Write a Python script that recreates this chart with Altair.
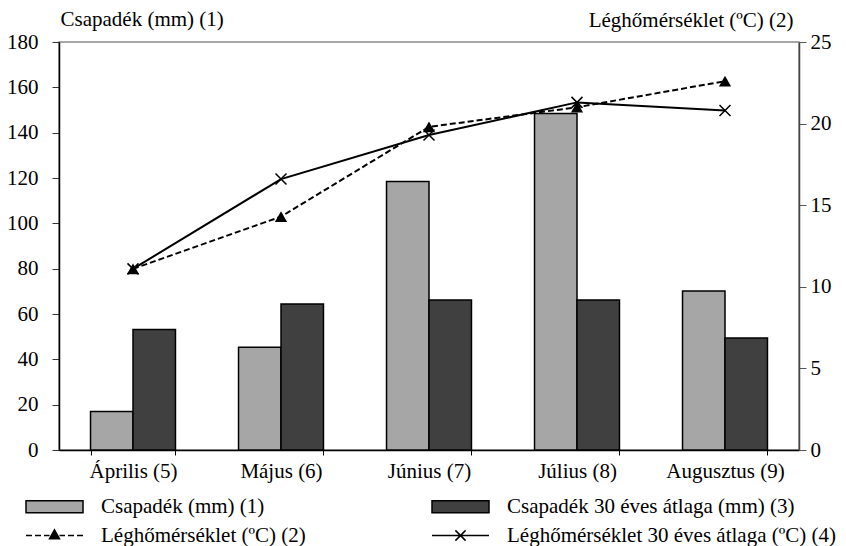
import altair as alt
import pandas as pd

# ---- data ----
months = ["Április (5)", "Május (6)", "Június (7)", "Július (8)", "Augusztus (9)"]
rain = [17, 45.3, 118.5, 148.5, 70.2]          # Csapadék (mm) (1)
rain_avg = [53.2, 64.4, 66.2, 66.2, 49.4]      # Csapadék 30 éves átlaga (mm) (3)
temp = [11.1, 14.3, 19.8, 21.0, 22.6]          # Léghőmérséklet (°C) (2)
temp_avg = [11.1, 16.6, 19.3, 21.3, 20.8]      # Léghőmérséklet 30 éves átlaga (°C) (4)

S1 = "Csapadék (mm) (1)"
S2 = "Léghőmérséklet (ºC) (2)"
S3 = "Csapadék 30 éves átlaga (mm) (3)"
S4 = "Léghőmérséklet 30 éves átlaga (ºC) (4)"
left_title = "Csapadék (mm) (1)"
right_title = "Léghőmérséklet (ºC) (2)"
left_ticks = [0, 20, 40, 60, 80, 100, 120, 140, 160, 180]
right_ticks = [0, 5, 10, 15, 20, 25]

bars_df = pd.DataFrame(
    {"month": months * 2, "series": [S1] * 5 + [S3] * 5, "value": rain + rain_avg}
)
temp_df = pd.DataFrame(
    {"month": months * 2, "series": [S2] * 5 + [S4] * 5, "value": temp + temp_avg}
)
legend_df = pd.DataFrame({"series": [S1, S3, S2, S4]})

FONT = "Liberation Serif"
LIGHT = "#a6a6a6"
DARK = "#404040"

# legend symbol paths (symbol size 144 -> 6 px per unit)
RECT = "M-4.75,-1H4.75V1H-4.75Z"
DASH_TRI = (
    "M-4.75,0H-3.75M-3.25,0H-2.25M-1.75,0H-0.83"
    "M0.83,0H1.75M2.25,0H3.25M3.75,0H4.75"
    "M0,-0.95L0.83,0.55L-0.83,0.55Z"
)
LINE_X = "M-4.75,0H4.75M-0.85,-0.85L0.85,0.85M-0.85,0.85L0.85,-0.85"
X_MARK = "M-1,-1L1,1M-1,1L1,-1"

x_enc = alt.X(
    "month:N",
    sort=months,
    scale=alt.Scale(paddingInner=0.426, paddingOuter=0.213),
    axis=alt.Axis(
        title=None,
        labelAngle=0,
        tickBand="extent",
        tickSize=5,
        labelPadding=5,
        domainColor="black",
        domainWidth=1.5,
        tickColor="black",
    ),
)

left_axis = alt.Axis(
    values=left_ticks,
    grid=False,
    tickSize=7,
    labelPadding=14,
    domainColor="black",
    domainWidth=1.5,
    tickColor="#333",
    title=left_title,
    titleAngle=0,
    titleAlign="left",
    titleBaseline="middle",
    titleX=1,
    titleY=-23,
)
right_axis = alt.Axis(
    orient="right",
    values=right_ticks,
    grid=False,
    tickSize=7,
    labelPadding=4,
    domainColor="#444",
    domainWidth=1.5,
    tickColor="#555",
    title=right_title,
    titleAngle=0,
    titleAlign="right",
    titleBaseline="middle",
    titleX=-6,
    titleY=-22,
)

bar_y = alt.Y("value:Q", scale=alt.Scale(domain=[0, 180]), axis=left_axis)
temp_y = alt.Y("value:Q", scale=alt.Scale(domain=[0, 25]), axis=right_axis)
x_off = alt.XOffset("series:N", scale=alt.Scale(domain=[S1, S3], paddingInner=0, paddingOuter=0))

bar_light = (
    alt.Chart(bars_df)
    .transform_filter(alt.datum.series == S1)
    .mark_bar(fill=LIGHT, stroke="black", strokeWidth=1.5)
    .encode(x=x_enc, xOffset=x_off, y=bar_y)
)
bar_dark = (
    alt.Chart(bars_df)
    .transform_filter(alt.datum.series == S3)
    .mark_bar(fill=DARK, stroke="black", strokeWidth=1.5)
    .encode(x=x_enc, xOffset=x_off, y=bar_y)
)

line_act = (
    alt.Chart(temp_df)
    .transform_filter(alt.datum.series == S2)
    .mark_line(color="black", strokeWidth=2, strokeDash=[6, 3])
    .encode(x=x_enc, y=temp_y)
)
line_avg = (
    alt.Chart(temp_df)
    .transform_filter(alt.datum.series == S4)
    .mark_line(color="black", strokeWidth=2)
    .encode(x=x_enc, y=temp_y)
)
pt_act = (
    alt.Chart(temp_df)
    .transform_filter(alt.datum.series == S2)
    .mark_point(shape="triangle-up", filled=True, fill="black", opacity=1, size=150)
    .encode(x=x_enc, y=temp_y)
)
pt_avg = (
    alt.Chart(temp_df)
    .transform_filter(alt.datum.series == S4)
    .mark_point(shape=X_MARK, filled=False, stroke="black", strokeWidth=1.5, opacity=1, size=121)
    .encode(x=x_enc, y=temp_y)
)

legend_def = dict(
    title=None,
    orient="none",
    legendX=-15,
    legendY=454,
    direction="horizontal",
    columns=2,
    columnPadding=123,
    rowPadding=7,
    padding=0,
    labelFontSize=21,
    labelFont=FONT,
    labelColor="black",
    labelOffset=36,
    labelLimit=400,
    symbolSize=144,
    symbolOpacity=1,
    symbolStrokeColor="black",
    symbolStrokeWidth=1.5,
)
legend_domain = [S1, S3, S2, S4]

legend_layer = (
    alt.Chart(legend_df)
    .mark_point(filled=True, opacity=0, size=144, strokeWidth=1.5)
    .encode(
        fill=alt.Fill(
            "series:N",
            scale=alt.Scale(domain=legend_domain, range=[LIGHT, DARK, "black", "black"]),
            legend=alt.Legend(**legend_def),
        ),
        stroke=alt.Stroke(
            "series:N",
            scale=alt.Scale(domain=legend_domain, range=["black", "black", "black", "black"]),
            legend=alt.Legend(**legend_def),
        ),
        shape=alt.Shape(
            "series:N",
            scale=alt.Scale(domain=legend_domain, range=[RECT, RECT, DASH_TRI, LINE_X]),
            legend=alt.Legend(**legend_def),
        ),
    )
)

bars = alt.layer(bar_light, bar_dark)
temps = alt.layer(line_act, line_avg, pt_act, pt_avg, legend_layer)

chart = (
    alt.layer(bars, temps)
    .resolve_scale(y="independent")
    .properties(
        width=740,
        height=408,
        padding={"left": 59, "top": 42, "right": 47, "bottom": 96},
        autosize=alt.AutoSizeParams(type="none"),
        background="white",
    )
    .configure(font=FONT)
    .configure_axis(
        labelFont=FONT,
        labelFontSize=21,
        labelColor="black",
        titleFont=FONT,
        titleFontSize=21,
        titleFontWeight="normal",
        titleColor="black",
    )
    .configure_view(stroke="#8a8a8a", strokeWidth=1.5)
)

chart.save("out.html", embed_options={"renderer": "svg", "actions": False})
